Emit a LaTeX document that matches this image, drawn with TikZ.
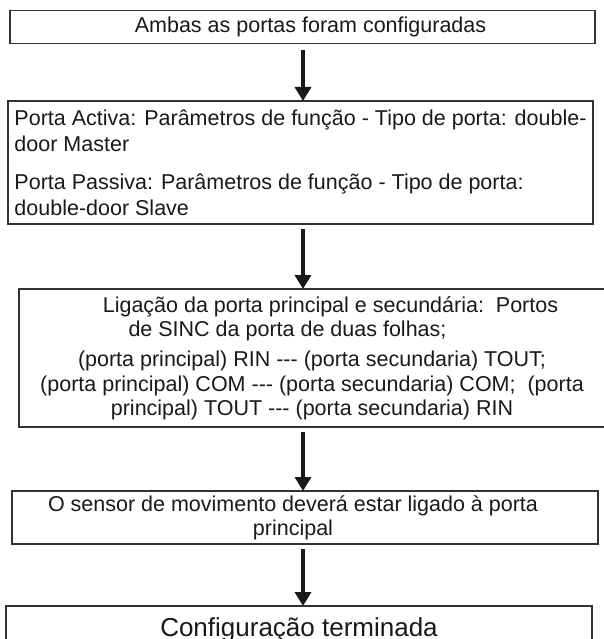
\documentclass[tikz,border=0pt]{standalone}
\usepackage{fontspec}
\setmainfont{Liberation Sans}
\usetikzlibrary{arrows.meta}
\tikzset{
  box/.style={draw=black!80, line width=1.3pt, inner sep=0pt, outer sep=0pt,
    anchor=north west, text=black!90, font=\fontsize{21.5}{26}\selectfont},
  arr/.style={-{Triangle[width=16pt,length=14pt]}, line width=4.5pt,
    draw=black!90, shorten <=5pt}
}
\begin{document}
\begin{tikzpicture}[x=1pt,y=-1pt]
      \useasboundingbox (0,0) rectangle (604,639);
      \clip (0,0) rectangle (604,639);
      \node[box, minimum width=585pt, minimum height=32.6pt, align=center] (0) at (10,10.7)
        {\makebox[16pt]{}Ambas as portas foram configuradas};
      \node[box, minimum width=585pt, minimum height=123pt, align=left] (1) at (8,101)
        {Porta Activa: Parâmetros de função - Tipo de porta: double-\\
         door Master\\[12pt]
         Porta Passiva: Parâmetros de função - Tipo de porta:\\
         double-door Slave};
      \node[box, minimum width=603pt, minimum height=138pt, align=center,
        font=\fontsize{21.5}{24}\selectfont] (2) at (19,289)
        {\makebox[20pt]{}Ligação da porta principal e secundária:\ \ Portos\\
         de SINC da porta de duas folhas;\makebox[66pt]{}\\[6pt]
         (porta principal) RIN -{}-{}- (porta secundaria) TOUT;\makebox[17pt]{}\\[1pt]
         (porta principal) COM -{}-{}- (porta secundaria) COM;\ \ (porta\makebox[17pt]{}\\
         principal) TOUT -{}-{}- (porta secundaria) RIN\makebox[17pt]{}};
      \node[box, minimum width=586pt, minimum height=53pt, align=center,
        font=\fontsize{21.5}{24}\selectfont] (3) at (12,491)
        {O sensor de movimento deverá estar ligado à porta\makebox[24pt]{}\\
         principal\makebox[24pt]{}};
      \node[box, minimum width=586pt, minimum height=47pt, align=center,
        font=\fontsize{26}{30}\selectfont] (4) at (6,606)
        {Configuração terminada};
      \coordinate (m) at (303,0);
      \begin{scope}[arr]
        \draw[shorten <=7pt] (0.south -| m) to (1.north -| m);
        \draw (1.south -| m) to (2.north -| m);
        \draw (2.south -| m) to (3.north -| m);
        \draw (3.south -| m) to (4.north -| m);
      \end{scope}
    \end{tikzpicture}
\end{document}
